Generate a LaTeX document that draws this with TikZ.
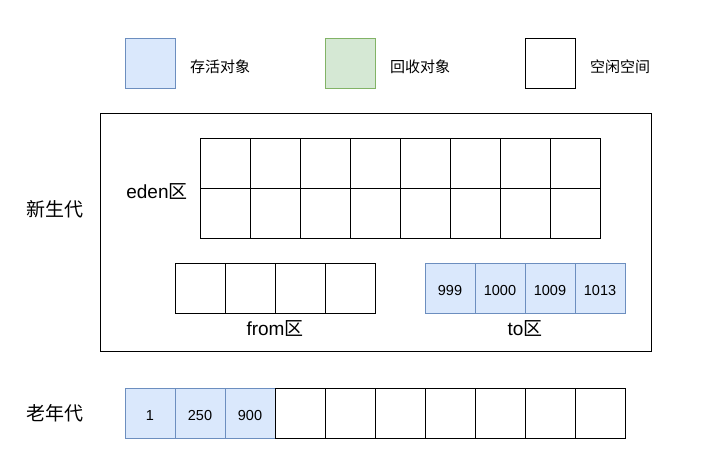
\documentclass[tikz,border=0pt]{standalone}
\usepackage{fontspec}
\setmainfont{Liberation Sans}
\newfontfamily\cjk{Noto Sans CJK SC}
\usetikzlibrary{positioning}

\definecolor{alivefill}{HTML}{DAE8FC}
\definecolor{aliveline}{HTML}{6C8EBF}
\definecolor{deadfill}{HTML}{D5E8D4}
\definecolor{deadline}{HTML}{82B366}

\newcommand{\bigfont}{\fontsize{19}{22}\selectfont}
\newcommand{\legfont}{\fontsize{15}{18}\selectfont\cjk}
\newcommand{\numfont}{\fontsize{14.5}{17}\selectfont}

\begin{document}
\begin{tikzpicture}[x=1pt,y=-1pt,node distance=50pt,on grid]
        \tikzstyle{cell}=[draw, line width=1pt, minimum size=50pt, inner sep=0pt, outer sep=0pt, text height=14pt, text depth=0pt, font=\numfont]
        \tikzstyle{alive}=[cell, draw=aliveline, fill=alivefill]
        \tikzstyle{dead}=[cell, draw=deadline, fill=deadfill]
        \tikzstyle{legendtext}=[inner sep=0pt, font=\legfont]
        \tikzstyle{area}=[inner sep=0pt, font=\bigfont]
        \useasboundingbox (0,0) rectangle (721,469);
        % legend
        \node[alive] (legalive) at (150,63) {};
        \node[legendtext, below right=3.5pt and 70pt of legalive] (legalivetext) {存活对象};
        \node[dead] (legdead) at (350,63) {};
        \node[legendtext, below right=3.5pt and 70pt of legdead] (legdeadtext) {回收对象};
        \node[cell] (legfree) at (550,63) {};
        \node[legendtext, below right=3.5pt and 70pt of legfree] (legfreetext) {空闲空间};
        % young generation
        \node[draw, line width=1pt, minimum width=551pt, minimum height=238pt, inner sep=0pt] (young) at (375.5,232) {};
        \node[area] (younglabel) at (55,209) {\cjk 新生代};
        \foreach \i in {1,...,8}
          \foreach \j in {1,2}
            \node[cell] (eden\j\i) at ({175+50*\i},{113+50*\j}) {};
        \node[area] (edenlabel) at (157,192) {eden{\cjk 区}};
        \node[cell] (from1) at (200,288) {};
        \foreach \i [count=\p from 1] in {2,3,4}
          \node[cell, right=of from\p] (from\i) {};
        \node[area] (fromlabel) at (275,329) {from{\cjk 区}};
        \node[alive] (to1) at (450,288) {999};
        \node[alive, right=of to1] (to2) {1000};
        \node[alive, right=of to2] (to3) {1009};
        \node[alive, right=of to3] (to4) {1013};
        \node[area] (tolabel) at (525,329) {to{\cjk 区}};
        % old generation
        \node[area] (oldlabel) at (55,413) {\cjk 老年代};
        \node[alive] (old1) at (150,413) {1};
        \node[alive, right=of old1] (old2) {250};
        \node[alive, right=of old2] (old3) {900};
        \foreach \i [count=\p from 3] in {4,...,10}
          \node[cell, right=of old\p] (old\i) {};
\end{tikzpicture}
\end{document}
